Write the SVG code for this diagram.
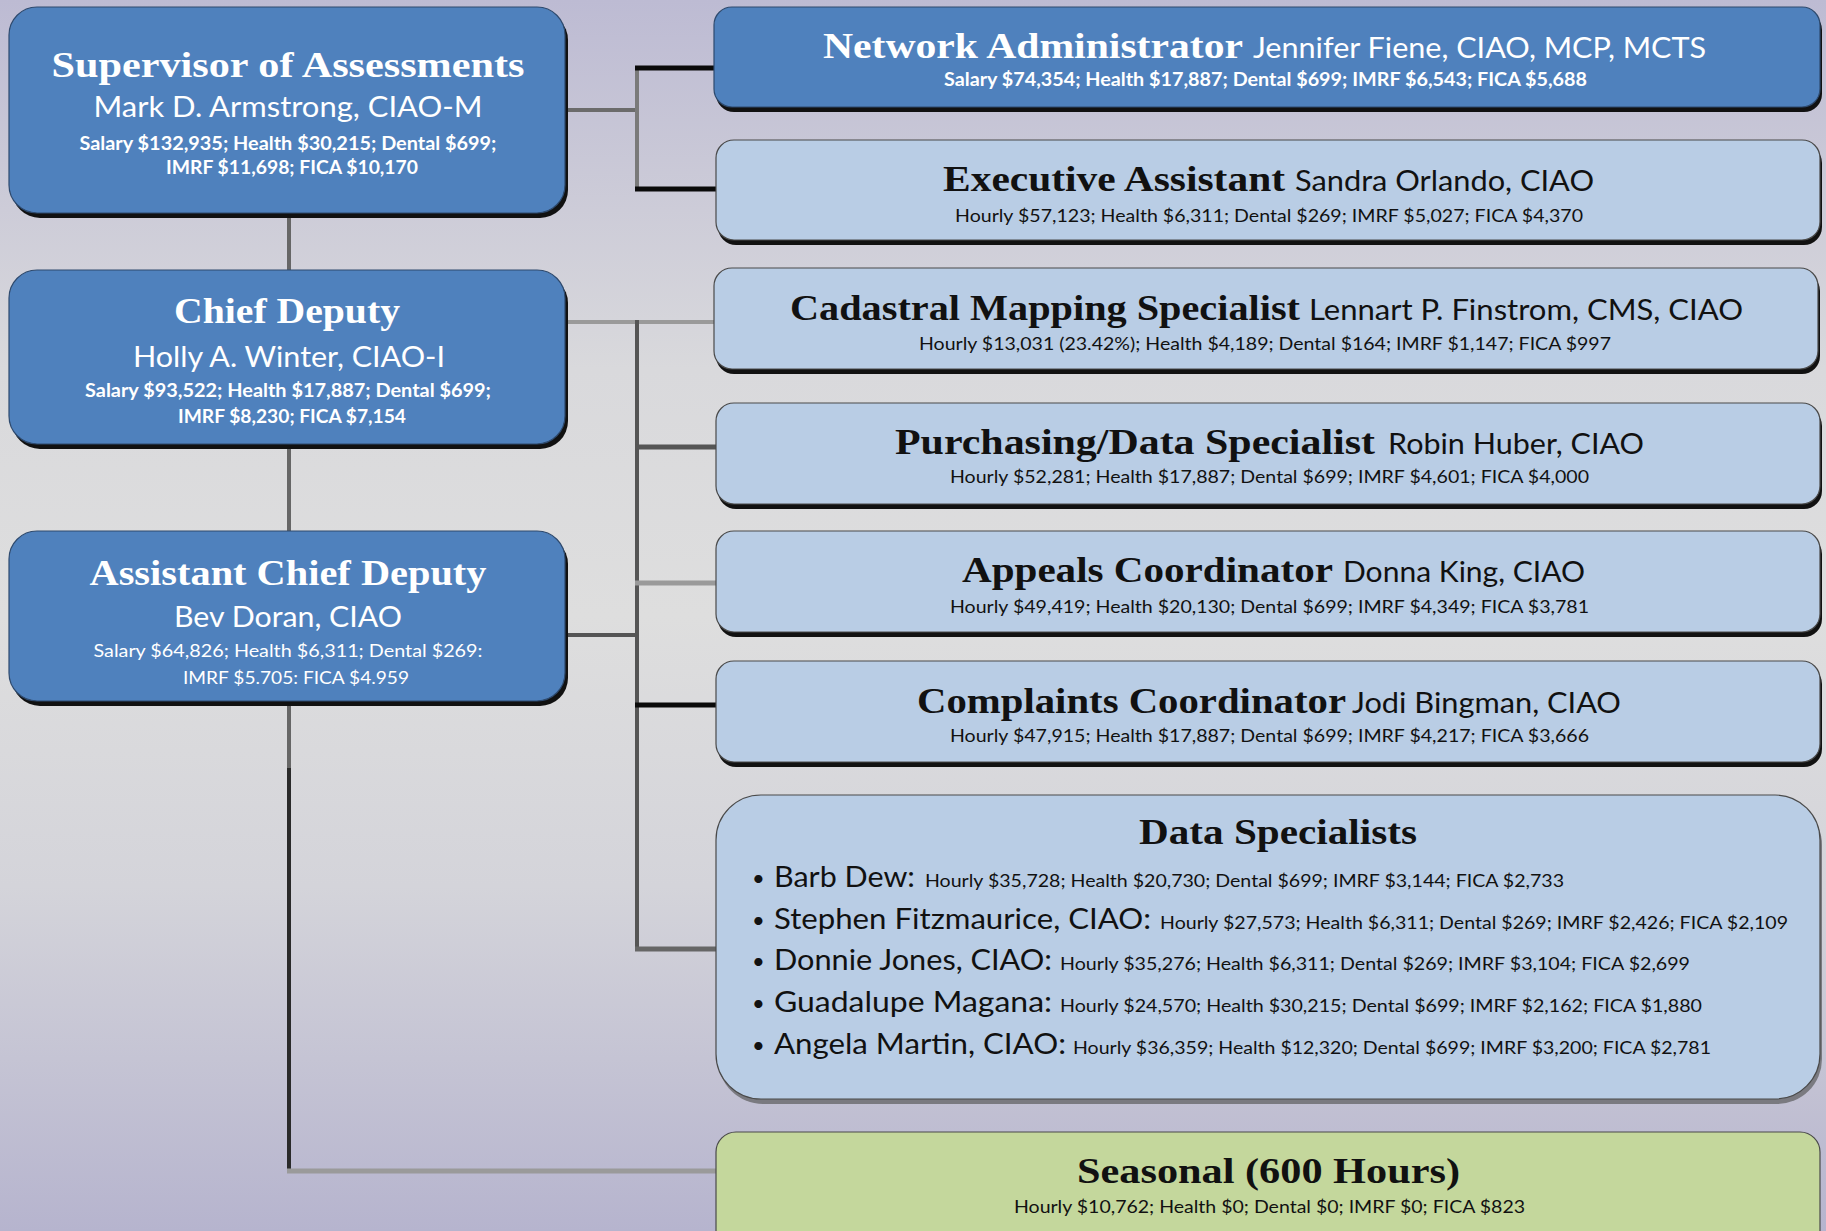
<svg xmlns="http://www.w3.org/2000/svg" width="1826" height="1231" viewBox="0 0 1826 1231">
<defs>
<linearGradient id="bg" x1="0" y1="0" x2="0" y2="1">
<stop offset="0" stop-color="#bdbbd3"/>
<stop offset="0.3" stop-color="#d9d9dc"/>
<stop offset="0.5" stop-color="#dedede"/>
<stop offset="0.72" stop-color="#d4d4da"/>
<stop offset="1" stop-color="#b6b4ce"/>
</linearGradient>
<style>
.dk{fill:#4f81bd;stroke:#2e4a6e;stroke-width:1.2}
.lt{fill:#b9cde5;stroke:#4a4a4a;stroke-width:1.2}
.gr{fill:#c4d79c;stroke:#4a4a4a;stroke-width:1.2}
.sh{fill:#111}
.ttl{font-family:"Liberation Serif","DejaVu Serif",serif;font-weight:bold;font-size:36px}
.nm{font-family:Lato,"Noto Sans","Liberation Sans",sans-serif;font-size:28px}
.bul{font-family:Lato,"Noto Sans","Liberation Sans",sans-serif;font-size:22px}
.sm{font-family:Lato,"Noto Sans","Liberation Sans",sans-serif;font-size:17px}
.smb{font-family:Lato,"Noto Sans","Liberation Sans",sans-serif;font-size:18px;font-weight:bold}
.w{fill:#ffffff}
.b{fill:#111111}
.c{fill:none;stroke-linecap:butt}
</style>
</defs>
<rect x="0" y="0" width="1826" height="1231" fill="url(#bg)"/>

<g id="connectors" class="c">
<line x1="566" y1="110" x2="637" y2="110" stroke="#6b6b6b" stroke-width="4"/>
<line x1="637" y1="66" x2="637" y2="191" stroke="#7a7a7a" stroke-width="4"/>
<line x1="635" y1="68" x2="715" y2="68" stroke="#0a0a0a" stroke-width="5"/>
<line x1="635" y1="189" x2="717" y2="189" stroke="#0a0a0a" stroke-width="5"/>
<line x1="289" y1="218" x2="289" y2="270" stroke="#666" stroke-width="4"/>
<line x1="289" y1="449" x2="289" y2="531" stroke="#666" stroke-width="4"/>
<line x1="289" y1="706" x2="289" y2="770" stroke="#666" stroke-width="4"/>
<line x1="289" y1="768" x2="289" y2="1173" stroke="#2a2a2a" stroke-width="4"/>
<line x1="287" y1="1171" x2="717" y2="1171" stroke="#9a9a9a" stroke-width="5"/>
<line x1="566" y1="322" x2="715" y2="322" stroke="#9a9a9a" stroke-width="4"/>
<line x1="637" y1="320" x2="637" y2="951" stroke="#555" stroke-width="4"/>
<line x1="635" y1="447" x2="717" y2="447" stroke="#555" stroke-width="5"/>
<line x1="635" y1="583" x2="717" y2="583" stroke="#9a9a9a" stroke-width="5"/>
<line x1="566" y1="635" x2="637" y2="635" stroke="#555" stroke-width="4"/>
<line x1="635" y1="705" x2="717" y2="705" stroke="#0a0a0a" stroke-width="5"/>
<line x1="635" y1="949" x2="717" y2="949" stroke="#666" stroke-width="5"/>
</g>

<g id="supervisor">
<rect class="sh" x="12" y="12" width="556" height="206" rx="28"/>
<rect class="dk" x="9" y="7" width="556" height="206" rx="28"/>
<text class="ttl w" x="288" y="77" text-anchor="middle" textLength="473" lengthAdjust="spacingAndGlyphs">Supervisor of Assessments</text>
<text class="nm w" x="288" y="117" text-anchor="middle" textLength="389" lengthAdjust="spacingAndGlyphs">Mark D. Armstrong, CIAO-M</text>
<text class="smb w" x="288" y="150" text-anchor="middle" textLength="417" lengthAdjust="spacingAndGlyphs">Salary $132,935; Health $30,215; Dental $699;</text>
<text class="smb w" x="292" y="174" text-anchor="middle" textLength="252" lengthAdjust="spacingAndGlyphs">IMRF $11,698; FICA $10,170</text>
</g>

<g id="chief-deputy">
<rect class="sh" x="12" y="275" width="556" height="174" rx="28"/>
<rect class="dk" x="9" y="270" width="556" height="174" rx="28"/>
<text class="ttl w" x="287" y="323" text-anchor="middle" textLength="226" lengthAdjust="spacingAndGlyphs">Chief Deputy</text>
<text class="nm w" x="289" y="367" text-anchor="middle" textLength="312" lengthAdjust="spacingAndGlyphs">Holly A. Winter, CIAO-I</text>
<text class="smb w" x="288" y="397" text-anchor="middle" textLength="406" lengthAdjust="spacingAndGlyphs">Salary $93,522; Health $17,887; Dental $699;</text>
<text class="smb w" x="292" y="423" text-anchor="middle" textLength="228" lengthAdjust="spacingAndGlyphs">IMRF $8,230; FICA $7,154</text>
</g>

<g id="assistant-chief-deputy">
<rect class="sh" x="12" y="536" width="556" height="170" rx="28"/>
<rect class="dk" x="9" y="531" width="556" height="170" rx="28"/>
<text class="ttl w" x="288" y="585" text-anchor="middle" textLength="397" lengthAdjust="spacingAndGlyphs">Assistant Chief Deputy</text>
<text class="nm w" x="288" y="627" text-anchor="middle" textLength="228" lengthAdjust="spacingAndGlyphs">Bev Doran, CIAO</text>
<text class="sm w" x="288" y="657" text-anchor="middle" textLength="389" lengthAdjust="spacingAndGlyphs">Salary $64,826; Health $6,311; Dental $269:</text>
<text class="sm w" x="296" y="684" text-anchor="middle" textLength="226" lengthAdjust="spacingAndGlyphs">IMRF $5.705: FICA $4.959</text>
</g>

<g id="network-administrator">
<rect class="sh" x="716" y="12" width="1106" height="100" rx="18"/>
<rect class="dk" x="714" y="7" width="1106" height="100" rx="18"/>
<text class="ttl w" x="823" y="58" textLength="420" lengthAdjust="spacingAndGlyphs">Network Administrator</text>
<text class="nm w" x="1253" y="58" textLength="453" lengthAdjust="spacingAndGlyphs">Jennifer Fiene, CIAO, MCP, MCTS</text>
<text class="smb w" x="944" y="86" textLength="643" lengthAdjust="spacingAndGlyphs">Salary $74,354; Health  $17,887; Dental $699; IMRF $6,543; FICA $5,688</text>
</g>

<g id="executive-assistant">
<rect class="sh" x="718" y="145" width="1104" height="100" rx="18"/>
<rect class="lt" x="716" y="140" width="1104" height="100" rx="18"/>
<text class="ttl b" x="943" y="191" textLength="342" lengthAdjust="spacingAndGlyphs">Executive Assistant</text>
<text class="nm b" x="1295" y="191" textLength="299" lengthAdjust="spacingAndGlyphs">Sandra Orlando, CIAO</text>
<text class="sm b" x="955" y="222" textLength="628" lengthAdjust="spacingAndGlyphs">Hourly $57,123; Health $6,311; Dental $269; IMRF $5,027; FICA $4,370</text>
</g>

<g id="cadastral-mapping-specialist">
<rect class="sh" x="716" y="273" width="1104" height="101" rx="18"/>
<rect class="lt" x="714" y="268" width="1104" height="101" rx="18"/>
<text class="ttl b" x="790" y="320" textLength="510" lengthAdjust="spacingAndGlyphs">Cadastral Mapping Specialist</text>
<text class="nm b" x="1309" y="320" textLength="434" lengthAdjust="spacingAndGlyphs">Lennart P. Finstrom, CMS, CIAO</text>
<text class="sm b" x="919" y="350" textLength="692" lengthAdjust="spacingAndGlyphs">Hourly $13,031 (23.42%); Health $4,189; Dental $164; IMRF $1,147; FICA $997</text>
</g>

<g id="purchasing-data-specialist">
<rect class="sh" x="718" y="408" width="1104" height="101" rx="18"/>
<rect class="lt" x="716" y="403" width="1104" height="101" rx="18"/>
<text class="ttl b" x="895" y="454" textLength="480" lengthAdjust="spacingAndGlyphs">Purchasing/Data Specialist</text>
<text class="nm b" x="1388" y="454" textLength="256" lengthAdjust="spacingAndGlyphs">Robin Huber, CIAO</text>
<text class="sm b" x="950" y="483" textLength="639" lengthAdjust="spacingAndGlyphs">Hourly $52,281; Health $17,887; Dental $699; IMRF $4,601; FICA $4,000</text>
</g>

<g id="appeals-coordinator">
<rect class="sh" x="718" y="536" width="1104" height="101" rx="18"/>
<rect class="lt" x="716" y="531" width="1104" height="101" rx="18"/>
<text class="ttl b" x="962" y="582" textLength="371" lengthAdjust="spacingAndGlyphs">Appeals Coordinator</text>
<text class="nm b" x="1343" y="582" textLength="242" lengthAdjust="spacingAndGlyphs">Donna King, CIAO</text>
<text class="sm b" x="950" y="613" textLength="639" lengthAdjust="spacingAndGlyphs">Hourly $49,419; Health $20,130; Dental $699; IMRF $4,349; FICA $3,781</text>
</g>

<g id="complaints-coordinator">
<rect class="sh" x="718" y="666" width="1104" height="101" rx="18"/>
<rect class="lt" x="716" y="661" width="1104" height="101" rx="18"/>
<text class="ttl b" x="917" y="713" textLength="429" lengthAdjust="spacingAndGlyphs">Complaints Coordinator</text>
<text class="nm b" x="1352" y="713" textLength="269" lengthAdjust="spacingAndGlyphs">Jodi Bingman, CIAO</text>
<text class="sm b" x="950" y="742" textLength="639" lengthAdjust="spacingAndGlyphs">Hourly $47,915; Health $17,887; Dental $699; IMRF $4,217; FICA $3,666</text>
</g>

<g id="data-specialists">
<rect x="718" y="800" width="1104" height="304" rx="45" fill="#7a7a80"/>
<rect class="lt" x="716" y="795" width="1104" height="304" rx="45"/>
<text class="ttl b" x="1139" y="844" textLength="278" lengthAdjust="spacingAndGlyphs">Data Specialists</text>
<text class="bul b" x="752" y="886">•</text>
<text class="nm b" x="774" y="887" textLength="141" lengthAdjust="spacingAndGlyphs">Barb Dew:</text>
<text class="sm b" x="925" y="887" textLength="639" lengthAdjust="spacingAndGlyphs">Hourly $35,728; Health $20,730; Dental $699; IMRF $3,144; FICA $2,733</text>
<text class="bul b" x="752" y="928">•</text>
<text class="nm b" x="774" y="929" textLength="377" lengthAdjust="spacingAndGlyphs">Stephen Fitzmaurice, CIAO:</text>
<text class="sm b" x="1160" y="929" textLength="628" lengthAdjust="spacingAndGlyphs">Hourly $27,573; Health $6,311; Dental $269; IMRF $2,426; FICA $2,109</text>
<text class="bul b" x="752" y="969">•</text>
<text class="nm b" x="774" y="970" textLength="278" lengthAdjust="spacingAndGlyphs">Donnie Jones, CIAO:</text>
<text class="sm b" x="1060" y="970" textLength="630" lengthAdjust="spacingAndGlyphs">Hourly $35,276; Health $6,311; Dental $269; IMRF $3,104; FICA $2,699</text>
<text class="bul b" x="752" y="1011">•</text>
<text class="nm b" x="774" y="1012" textLength="278" lengthAdjust="spacingAndGlyphs">Guadalupe Magana:</text>
<text class="sm b" x="1060" y="1012" textLength="642" lengthAdjust="spacingAndGlyphs">Hourly $24,570; Health $30,215; Dental $699; IMRF $2,162; FICA $1,880</text>
<text class="bul b" x="752" y="1053">•</text>
<text class="nm b" x="774" y="1054" textLength="292" lengthAdjust="spacingAndGlyphs">Angela Martin, CIAO:</text>
<text class="sm b" x="1073" y="1054" textLength="638" lengthAdjust="spacingAndGlyphs">Hourly $36,359; Health $12,320; Dental $699; IMRF $3,200; FICA $2,781</text>
</g>

<g id="seasonal">
<rect class="gr" x="716" y="1132" width="1104" height="130" rx="20"/>
<text class="ttl b" x="1077" y="1183" textLength="383" lengthAdjust="spacingAndGlyphs">Seasonal (600 Hours)</text>
<text class="sm b" x="1014" y="1213" textLength="511" lengthAdjust="spacingAndGlyphs">Hourly $10,762; Health $0; Dental $0; IMRF $0; FICA $823</text>
</g>
</svg>
